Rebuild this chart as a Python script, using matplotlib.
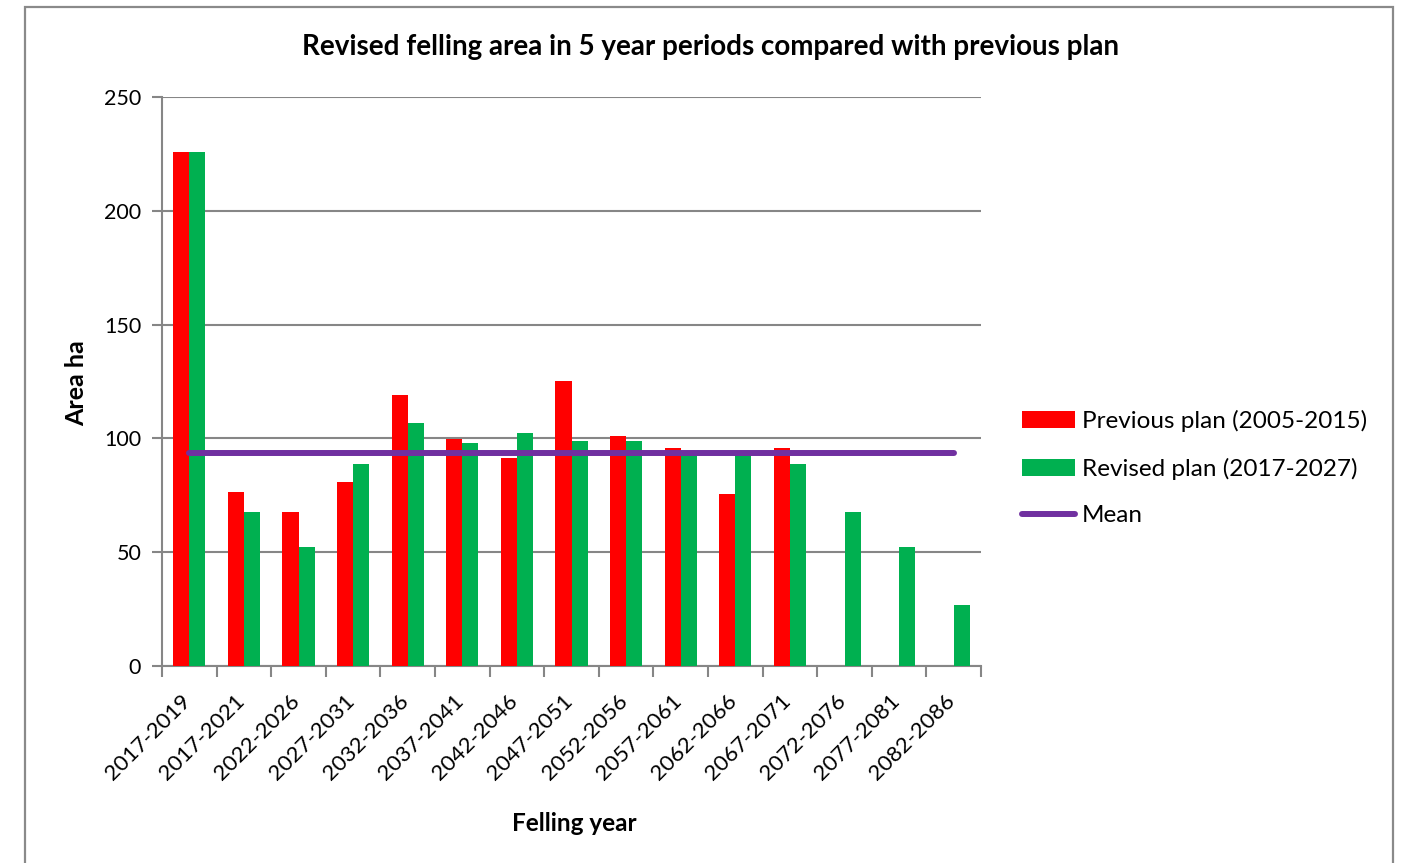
import matplotlib
matplotlib.use("Agg")
import matplotlib.pyplot as plt
import numpy as np
from matplotlib.transforms import ScaledTranslation
from matplotlib.patches import Rectangle, Patch
from matplotlib.lines import Line2D

categories = ["2017-2019", "2017-2021", "2022-2026", "2027-2031", "2032-2036",
              "2037-2041", "2042-2046", "2047-2051", "2052-2056", "2057-2061",
              "2062-2066", "2067-2071", "2072-2076", "2077-2081", "2082-2086"]
previous_plan = [226, 76.5, 67.5, 80.9, 119.1, 99.6, 91.6, 125.3, 101.2, 95.9,
                 75.6, 95.9, np.nan, np.nan, np.nan]
revised_plan = [226, 67.5, 52.4, 88.8, 106.6, 97.8, 102.2, 98.7, 98.7, 93.5,
                93.5, 88.8, 67.5, 52.4, 26.7]
mean_values = [93.8] * 15
yticks = [0, 50, 100, 150, 200, 250]

plt.rcParams['font.family'] = ['Lato', 'DejaVu Sans']

W, H = 1401, 863
fig = plt.figure(figsize=(W / 100, H / 100), dpi=100)

# outer chart border
fig.patches.append(Rectangle((25 / W, -0.05), (1393 - 25) / W, 1.05 - 7 / H,
                             transform=fig.transFigure, fill=False,
                             edgecolor='#8a8a8a', linewidth=1.6, zorder=0))

left, right, top, bottom = 162, 981, 97, 666
ax = fig.add_axes([left / W, 1 - bottom / H, (right - left) / W, (bottom - top) / H])

x = np.arange(len(categories))
bw = 0.295
red = '#FF0000'
green = '#00B050'
purple = '#7030A0'
grid_c = '#868686'

ax.bar(x - bw / 2, previous_plan, width=bw, color=red, zorder=3)
ax.bar(x + bw / 2, revised_plan, width=bw, color=green, zorder=3)
ax.plot(x, mean_values, color=purple, linewidth=4.3, solid_capstyle='round', zorder=4)

ax.set_xlim(-0.5, len(categories) - 0.5)
ax.set_ylim(0, 250)
ax.set_yticks(yticks)
ax.yaxis.grid(True, color=grid_c, linewidth=1.5, zorder=0)
ax.set_axisbelow(True)

for s in ['top', 'right']:
    ax.spines[s].set_visible(False)
for s in ['left', 'bottom']:
    ax.spines[s].set_color(grid_c)
    ax.spines[s].set_linewidth(1.5)

ax.set_xticks(np.arange(len(categories) + 1) - 0.5)
ax.set_xticklabels([])
ax.set_xticks(x, minor=True)
ax.set_xticklabels(categories, minor=True, rotation=45, ha='right', va='top',
                   fontsize=16)
ax.tick_params(axis='x', which='major', length=8, width=1.5, color=grid_c)
ax.tick_params(axis='x', which='minor', length=0, pad=18)
ax.tick_params(axis='y', length=7, width=1.5, color=grid_c, labelsize=15.5, pad=8)
off = ScaledTranslation(0.05, 0, fig.dpi_scale_trans)
for lab in ax.get_xticklabels(minor=True):
    lab.set_transform(lab.get_transform() + off)

fig.text(710 / W, 1 - 47 / H, "Revised felling area in 5 year periods compared with previous plan",
         ha='center', va='center', fontsize=20, fontweight='bold')
fig.text(77 / W, 1 - 383 / H, "Area ha", rotation=90, ha='center', va='center',
         fontsize=18, fontweight='bold')
fig.text(574 / W, 1 - 823 / H, "Felling year", ha='center', va='center',
         fontsize=17.5, fontweight='bold')

handles = [Patch(facecolor=red), Patch(facecolor=green),
           Line2D([0], [0], color=purple, linewidth=4.3, solid_capstyle='round')]
labels = ["Previous plan (2005-2015)", "Revised plan (2017-2027)", "Mean"]
fig.legend(handles, labels, loc='center left', bbox_to_anchor=(1022 / W, 1 - 468 / H),
           frameon=False, fontsize=17.5, handlelength=2.18, handleheight=0.7,
           handletextpad=0.29, labelspacing=1.05, borderpad=0, borderaxespad=0)

fig.savefig("out.png", dpi=100)
